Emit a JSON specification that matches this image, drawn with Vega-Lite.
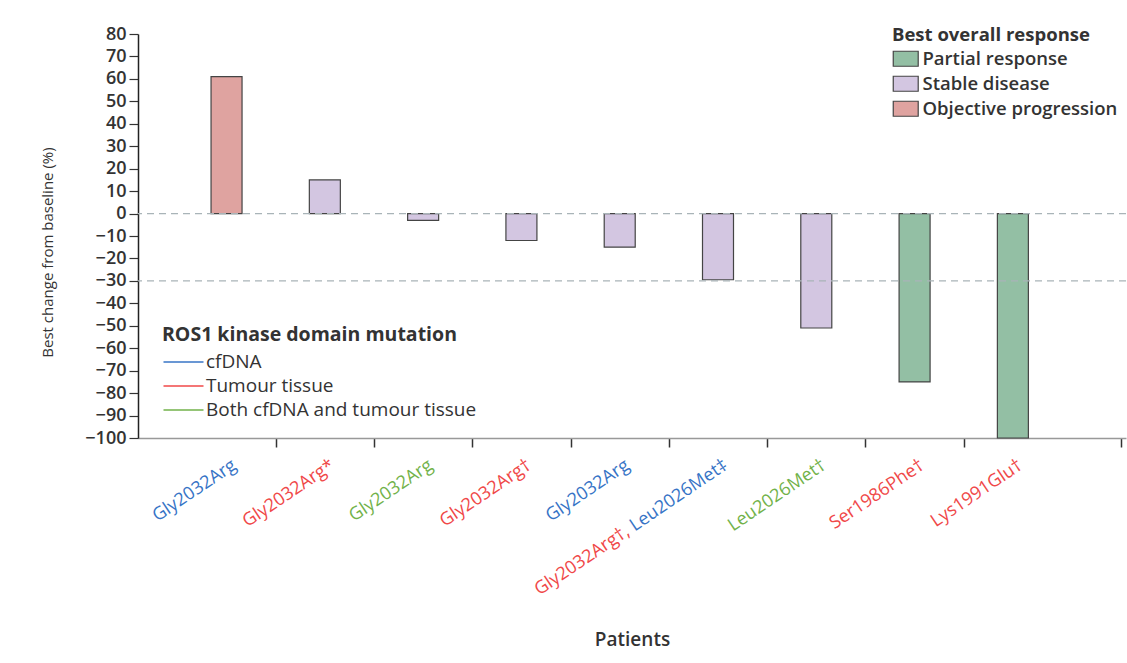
{
  "$schema": "https://vega.github.io/schema/vega-lite/v6.json",
  "width": 988,
  "height": 404,
  "autosize": {"type": "none"},
  "padding": {"left": 138, "top": 34, "right": 1, "bottom": 225},
  "background": "white",
  "config": {
    "view": {"stroke": null},
    "font": "Open Sans",
    "axis": {"labelColor": "#333", "titleColor": "#333"},
    "legend": {"padding": 0, "labelLimit": 500, "titleLimit": 500}
  },
  "datasets": {
    "bars": [
      {"patient": 1, "change": 61, "response": "Objective progression"},
      {"patient": 2, "change": 15, "response": "Stable disease"},
      {"patient": 3, "change": -3, "response": "Stable disease"},
      {"patient": 4, "change": -12, "response": "Stable disease"},
      {"patient": 5, "change": -15, "response": "Stable disease"},
      {"patient": 6, "change": -29.5, "response": "Stable disease"},
      {"patient": 7, "change": -51, "response": "Stable disease"},
      {"patient": 8, "change": -75, "response": "Partial response"},
      {"patient": 9, "change": -100, "response": "Partial response"}
    ],
    "labels": [
      {"patient": 1, "label": "Gly2032Arg", "source": "cfDNA", "part": "main"},
      {"patient": 2, "label": "Gly2032Arg*", "source": "Tumour tissue", "part": "main"},
      {"patient": 3, "label": "Gly2032Arg", "source": "Both cfDNA and tumour tissue", "part": "main"},
      {"patient": 4, "label": "Gly2032Arg†", "source": "Tumour tissue", "part": "main"},
      {"patient": 5, "label": "Gly2032Arg", "source": "cfDNA", "part": "main"},
      {"patient": 6, "label": "Gly2032Arg†, Leu2026Met‡", "source": "Tumour tissue", "part": "main"},
      {"patient": 7, "label": "Leu2026Met†", "source": "Both cfDNA and tumour tissue", "part": "main"},
      {"patient": 8, "label": "Ser1986Phe†", "source": "Tumour tissue", "part": "main"},
      {"patient": 9, "label": "Lys1991Glu†", "source": "Tumour tissue", "part": "main"},
      {"patient": 6, "label": "Leu2026Met‡", "source": "cfDNA", "part": "overlay"}
    ],
    "refs": [{"y": 0}, {"y": -30}]
  },
  "layer": [
    {
      "data": {"name": "bars"},
      "mark": {"type": "bar", "width": 31, "stroke": "#444", "strokeWidth": 1.2},
      "encoding": {
        "x": {
          "field": "patient", "type": "quantitative",
          "scale": {"domain": [0.15, 10.1], "nice": false, "zero": false},
          "axis": {
            "values": [1.5, 2.5, 3.5, 4.5, 5.5, 6.5, 7.5, 8.5, 10.1],
            "labels": false, "grid": false, "title": "Patients",
            "domainColor": "#999", "domainWidth": 1.5, "tickColor": "#333", "tickSize": 9, "tickWidth": 1.5,
            "titleFontSize": 19, "titleFontWeight": 600, "titlePadding": 183
          }
        },
        "y": {
          "field": "change", "type": "quantitative",
          "scale": {"domain": [-100, 80], "nice": false},
          "axis": {
            "values": [-100, -90, -80, -70, -60, -50, -40, -30, -20, -10, 0, 10, 20, 30, 40, 50, 60, 70, 80],
            "grid": false, "title": "Best change from baseline (%)", "labelOverlap": false,
            "domainColor": "#222", "domainWidth": 1.5, "tickColor": "#333", "tickSize": 9, "tickWidth": 1.2,
            "labelFontSize": 18, "labelFontWeight": 600, "labelPadding": 3,
            "titleFontSize": 15, "titleFontWeight": "normal", "titleX": -91, "titleY": 218, "titleBaseline": "middle"
          }
        },
        "y2": {"datum": 0},
        "color": {
          "field": "response", "type": "nominal",
          "scale": {
            "domain": ["Partial response", "Stable disease", "Objective progression"],
            "range": ["#93bfa4", "#d3c6e1", "#dfa3a0"]
          },
          "legend": {
            "orient": "none", "legendX": 754, "legendY": -8,
            "title": "Best overall response",
            "titleFontSize": 18.5, "titleFontWeight": "bold", "titleColor": "#333", "titlePadding": 5,
            "labelFontSize": 18.5, "labelFontWeight": 600, "labelColor": "#333", "labelOffset": 12,
            "symbolType": "M-1,-0.94H2.12V0.94H-1Z", "symbolSize": 256,
            "symbolStrokeColor": "#444", "symbolStrokeWidth": 1.2, "symbolOpacity": 1,
            "rowPadding": 4
          }
        }
      }
    },
    {
      "data": {"name": "refs"},
      "mark": {"type": "rule", "stroke": "#a9b4b8", "strokeWidth": 1.3, "strokeDash": [7, 5]},
      "encoding": {
        "y": {
          "field": "y", "type": "quantitative",
          "axis": {
            "values": [-100, -90, -80, -70, -60, -50, -40, -30, -20, -10, 0, 10, 20, 30, 40, 50, 60, 70, 80],
            "grid": false, "title": "Best change from baseline (%)", "labelOverlap": false,
            "domainColor": "#222", "domainWidth": 1.5, "tickColor": "#333", "tickSize": 9, "tickWidth": 1.2,
            "labelFontSize": 18, "labelFontWeight": 600, "labelPadding": 3,
            "titleFontSize": 15, "titleFontWeight": "normal", "titleX": -91, "titleY": 218, "titleBaseline": "middle"
          }
        }
      }
    },
    {
      "data": {"name": "labels"},
      "transform": [{"filter": "datum.part == 'main'"}],
      "mark": {"type": "text", "angle": 326, "align": "right", "baseline": "middle", "fontSize": 18, "xOffset": 8, "yOffset": 26},
      "encoding": {
        "x": {
          "field": "patient", "type": "quantitative",
          "axis": {
            "values": [1.5, 2.5, 3.5, 4.5, 5.5, 6.5, 7.5, 8.5, 10.1],
            "labels": false, "grid": false, "title": "Patients",
            "domainColor": "#999", "domainWidth": 1.5, "tickColor": "#333", "tickSize": 9, "tickWidth": 1.5,
            "titleFontSize": 19, "titleFontWeight": 600, "titlePadding": 183
          }
        },
        "y": {
          "datum": -100,
          "axis": {
            "values": [-100, -90, -80, -70, -60, -50, -40, -30, -20, -10, 0, 10, 20, 30, 40, 50, 60, 70, 80],
            "grid": false, "title": "Best change from baseline (%)", "labelOverlap": false,
            "domainColor": "#222", "domainWidth": 1.5, "tickColor": "#333", "tickSize": 9, "tickWidth": 1.2,
            "labelFontSize": 18, "labelFontWeight": 600, "labelPadding": 3,
            "titleFontSize": 15, "titleFontWeight": "normal", "titleX": -91, "titleY": 218, "titleBaseline": "middle"
          }
        },
        "text": {"field": "label"},
        "fill": {
          "field": "source", "type": "nominal",
          "scale": {
            "domain": ["cfDNA", "Tumour tissue", "Both cfDNA and tumour tissue"],
            "range": ["#3774c6", "#f04848", "#72b24a"]
          },
          "legend": {
            "orient": "none", "legendX": 24, "legendY": 292,
            "title": "ROS1 kinase domain mutation",
            "titleFontSize": 19.5, "titleFontWeight": "bold", "titleColor": "#333", "titlePadding": 7,
            "labelFontSize": 19, "labelFontWeight": "normal", "labelColor": "#333", "labelOffset": 25,
            "symbolType": "M-1,-0.094H4V0.094H-1Z", "symbolSize": 256, "symbolStrokeWidth": 0, "symbolOpacity": 1,
            "rowPadding": 4
          }
        }
      }
    },
    {
      "data": {"name": "labels"},
      "transform": [{"filter": "datum.part == 'overlay'"}],
      "mark": {"type": "text", "angle": 326, "align": "right", "baseline": "middle", "fontSize": 18, "xOffset": 8, "yOffset": 26, "fill": "white", "stroke": "white", "strokeWidth": 2.5},
      "encoding": {
        "x": {
          "field": "patient", "type": "quantitative",
          "axis": {
            "values": [1.5, 2.5, 3.5, 4.5, 5.5, 6.5, 7.5, 8.5, 10.1],
            "labels": false, "grid": false, "title": "Patients",
            "domainColor": "#999", "domainWidth": 1.5, "tickColor": "#333", "tickSize": 9, "tickWidth": 1.5,
            "titleFontSize": 19, "titleFontWeight": 600, "titlePadding": 183
          }
        },
        "y": {
          "datum": -100,
          "axis": {
            "values": [-100, -90, -80, -70, -60, -50, -40, -30, -20, -10, 0, 10, 20, 30, 40, 50, 60, 70, 80],
            "grid": false, "title": "Best change from baseline (%)", "labelOverlap": false,
            "domainColor": "#222", "domainWidth": 1.5, "tickColor": "#333", "tickSize": 9, "tickWidth": 1.2,
            "labelFontSize": 18, "labelFontWeight": 600, "labelPadding": 3,
            "titleFontSize": 15, "titleFontWeight": "normal", "titleX": -91, "titleY": 218, "titleBaseline": "middle"
          }
        },
        "text": {"field": "label"}
      }
    },
    {
      "data": {"name": "labels"},
      "transform": [{"filter": "datum.part == 'overlay'"}],
      "mark": {"type": "text", "angle": 326, "align": "right", "baseline": "middle", "fontSize": 18, "xOffset": 8, "yOffset": 26},
      "encoding": {
        "x": {
          "field": "patient", "type": "quantitative",
          "axis": {
            "values": [1.5, 2.5, 3.5, 4.5, 5.5, 6.5, 7.5, 8.5, 10.1],
            "labels": false, "grid": false, "title": "Patients",
            "domainColor": "#999", "domainWidth": 1.5, "tickColor": "#333", "tickSize": 9, "tickWidth": 1.5,
            "titleFontSize": 19, "titleFontWeight": 600, "titlePadding": 183
          }
        },
        "y": {
          "datum": -100,
          "axis": {
            "values": [-100, -90, -80, -70, -60, -50, -40, -30, -20, -10, 0, 10, 20, 30, 40, 50, 60, 70, 80],
            "grid": false, "title": "Best change from baseline (%)", "labelOverlap": false,
            "domainColor": "#222", "domainWidth": 1.5, "tickColor": "#333", "tickSize": 9, "tickWidth": 1.2,
            "labelFontSize": 18, "labelFontWeight": 600, "labelPadding": 3,
            "titleFontSize": 15, "titleFontWeight": "normal", "titleX": -91, "titleY": 218, "titleBaseline": "middle"
          }
        },
        "text": {"field": "label"},
        "fill": {"field": "source", "type": "nominal"}
      }
    }
  ]
}
